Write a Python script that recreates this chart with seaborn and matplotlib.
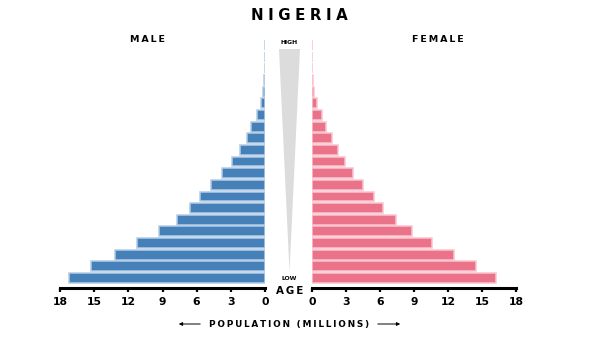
import matplotlib
matplotlib.use("Agg")
import matplotlib.pyplot as plt
from matplotlib.patches import Polygon, FancyArrowPatch
import seaborn as sns
import pandas as pd

# Age groups from youngest to oldest, population in millions
age_groups = ["0-4", "5-9", "10-14", "15-19", "20-24", "25-29", "30-34",
              "35-39", "40-44", "45-49", "50-54", "55-59", "60-64", "65-69",
              "70-74", "75-79", "80-84", "85-89", "90-94", "95-99", "100+"]
male = [17.2, 15.3, 13.2, 11.2, 9.3, 7.7, 6.6, 5.7, 4.7, 3.8, 2.9,
        2.2, 1.6, 1.2, 0.7, 0.35, 0.15, 0.06, 0.02, 0.01, 0.005]
female = [16.2, 14.5, 12.5, 10.6, 8.8, 7.4, 6.3, 5.5, 4.5, 3.65, 2.9,
          2.3, 1.8, 1.2, 0.9, 0.4, 0.15, 0.06, 0.02, 0.01, 0.005]
ticks = [0, 3, 6, 9, 12, 15, 18]

df = pd.DataFrame({"age": age_groups, "male": male, "female": female})
order = age_groups[::-1]  # oldest at the top

sns.set_style("white")
plt.rcParams["font.family"] = ["DejaVu Sans"]
plt.rcParams["text.color"] = "black"

W, H = 600, 337
fig = plt.figure(figsize=(W / 100, H / 100), dpi=100)


def fx(x):
    return x / W


def fy(y):
    return 1 - y / H


def spaced(s, sep="\u2009"):
    """Widen the tracking of a label by inserting thin spaces."""
    return sep.join(s)


ax_bottom, ax_top = 288, 37
ax_m = fig.add_axes([fx(60), fy(ax_bottom), fx(265) - fx(60), fy(ax_top) - fy(ax_bottom)])
ax_f = fig.add_axes([fx(312), fy(ax_bottom), fx(516) - fx(312), fy(ax_top) - fy(ax_bottom)])

male_col, male_edge = "#4680b8", "#b3cce6"
fem_col, fem_edge = "#ea738a", "#f9c4ce"

sns.barplot(data=df, x="male", y="age", order=order, orient="h", color=male_col,
            saturation=1, width=0.85, edgecolor=male_edge, linewidth=1.1, ax=ax_m)
sns.barplot(data=df, x="female", y="age", order=order, orient="h", color=fem_col,
            saturation=1, width=0.85, edgecolor=fem_edge, linewidth=1.1, ax=ax_f)

for ax, lim in ((ax_m, (18, 0)), (ax_f, (0, 18))):
    ax.set_xlim(*lim)
    ax.set_ylim(20.86, -0.69)
    ax.set_xticks(ticks)
    ax.set_xticklabels([str(t) for t in ticks], fontsize=7.8, fontweight="bold")
    ax.set_yticks([])
    ax.set_xlabel("")
    ax.set_ylabel("")
    for s in ("left", "right", "top"):
        ax.spines[s].set_visible(False)
    ax.spines["bottom"].set_linewidth(2.2)
    ax.spines["bottom"].set_color("black")
    ax.tick_params(axis="x", direction="out", length=3, width=1.6, pad=3.5,
                   colors="black", bottom=True)
    ax.patch.set_alpha(0)

# central age wedge
wedge = Polygon([(fx(279), fy(49)), (fx(300), fy(49)), (fx(289.5), fy(272))],
                closed=True, transform=fig.transFigure, facecolor="#dcdcdc",
                edgecolor="none")
fig.add_artist(wedge)

fig.text(fx(299), fy(16), spaced("NIGERIA", "\u2009\u200a"), ha="center", va="center",
         fontsize=10.8, fontweight="heavy", color="black")
fig.text(fx(147), fy(39), spaced("MALE"), ha="center", va="center",
         fontsize=6.8, fontweight="bold", color="black")
fig.text(fx(438), fy(39), spaced("FEMALE"), ha="center", va="center",
         fontsize=6.8, fontweight="bold", color="black")
fig.text(fx(289.5), fy(42), "HIGH", ha="center", va="center",
         fontsize=4.4, fontweight="bold", color="black")
fig.text(fx(289.5), fy(279), "LOW", ha="center", va="center",
         fontsize=4.4, fontweight="bold", color="black")
fig.text(fx(290), fy(290.5), spaced("AGE"), ha="center", va="center",
         fontsize=7.4, fontweight="bold", color="black")
fig.text(fx(289.5), fy(324), spaced("POPULATION (MILLIONS)"),
         ha="center", va="center", fontsize=6.4, fontweight="bold", color="black")

for x0, x1 in ((203, 176), (375, 403)):
    arr = FancyArrowPatch((fx(x0), fy(324)), (fx(x1), fy(324)),
                          transform=fig.transFigure, arrowstyle="-|>",
                          mutation_scale=5, lw=0.7, color="black")
    fig.add_artist(arr)

fig.savefig("out.png", dpi=100)
